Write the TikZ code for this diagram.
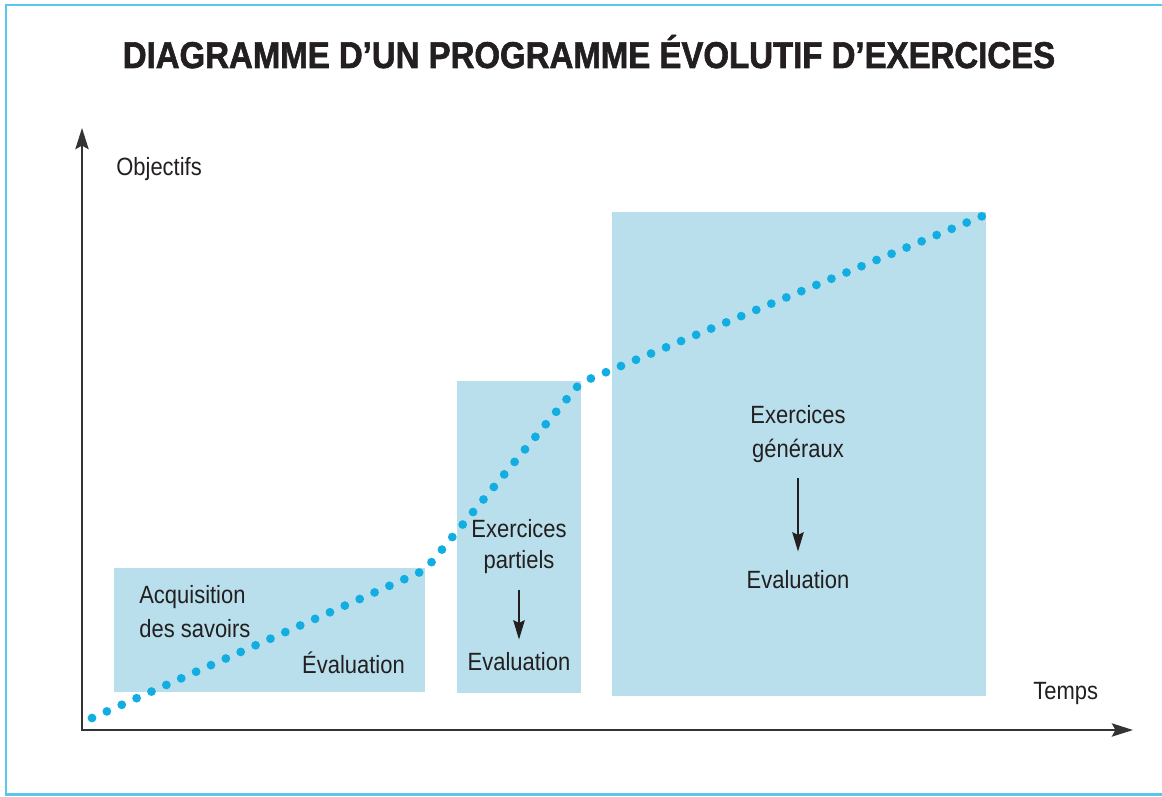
\documentclass[tikz,border=0pt]{standalone}
\usepackage{fontspec}
\setmainfont{Liberation Sans}[FakeStretch=0.88]
\newfontfamily\titrefont{Liberation Sans Bold}[FakeStretch=0.885, FakeBold=1.6]
\usepackage{xcolor}
\usetikzlibrary{arrows.meta}

\definecolor{cadre}{HTML}{5BC6EC}
\definecolor{fond}{HTML}{B8DFEB}
\definecolor{pointille}{HTML}{12AEE2}
\definecolor{encre}{HTML}{231F20}
\definecolor{axe}{HTML}{333333}

\begin{document}
\begin{tikzpicture}[
		lab/.style={inner sep=0pt, text=encre, font=\fontsize{14.2}{19.3}\selectfont},
		fleche/.style={draw=encre, line width=1.1pt, -{Stealth[length=11pt, width=6.5pt, inset=1.5pt]}}
	]
		\useasboundingbox (0,0) rectangle (23.24,15.92);
		\draw[cadre, line width=1.2pt] (0.12,0.03) rectangle (23.6,15.82);
		\node[anchor=base, text=encre, font=\titrefont\fontsize{21.2}{25}\selectfont] (titre) at (11.78,14.56) {DIAGRAMME D’UN PROGRAMME ÉVOLUTIF D’EXERCICES};
		% les trois phases
		\fill[fond] (2.28,2.08) rectangle (8.50,4.56);
		\fill[fond] (9.14,2.06) rectangle (11.62,8.30);
		\fill[fond] (12.24,2.00) rectangle (19.72,11.68);
		% axes
		\coordinate (O) at (1.64,1.32);
		\coordinate (haut) at (1.64,13.36);
		\coordinate (droite) at (22.66,1.32);
		\draw[axe, line width=1.4pt, {Stealth[length=12pt, width=7.5pt, inset=2pt]}-{Stealth[length=12pt, width=7.5pt, inset=2pt]}] (haut) -- (O) -- (droite);
		\node[lab, anchor=base west] (objectifs) at (2.32,12.42) {Objectifs};
		\node[lab, anchor=base west] (temps) at (20.66,1.94) {Temps};
		% progression
		\draw[pointille, line width=5pt, line cap=round, dash pattern=on 0pt off 0.3255cm, rounded corners=0.15cm] (1.84,1.56) -- (8.50,4.52) -- (11.60,8.26) -- (19.70,11.62);
		\node[lab, anchor=base west, align=left] (acquisition) at (2.78,3.18) {Acquisition\\des savoirs};
		\node[lab, anchor=base] (eval1) at (7.07,2.46) {Évaluation};
		\node[lab, anchor=base, align=center] (partiels) at (10.38,4.56) {Exercices\\[-2pt]partiels};
		\node[lab, anchor=base] (eval2) at (10.38,2.52) {Evaluation};
		\draw[fleche, shorten <=0.32cm, shorten >=0.24cm] (partiels) -- (eval2);
		\node[lab, anchor=base, align=center] (generaux) at (15.96,6.78) {Exercices\\généraux};
		\node[lab, anchor=base] (eval3) at (15.96,4.16) {Evaluation};
		\draw[fleche, shorten <=0.3cm, shorten >=0.36cm] (generaux) -- (eval3);
\end{tikzpicture}
\end{document}
